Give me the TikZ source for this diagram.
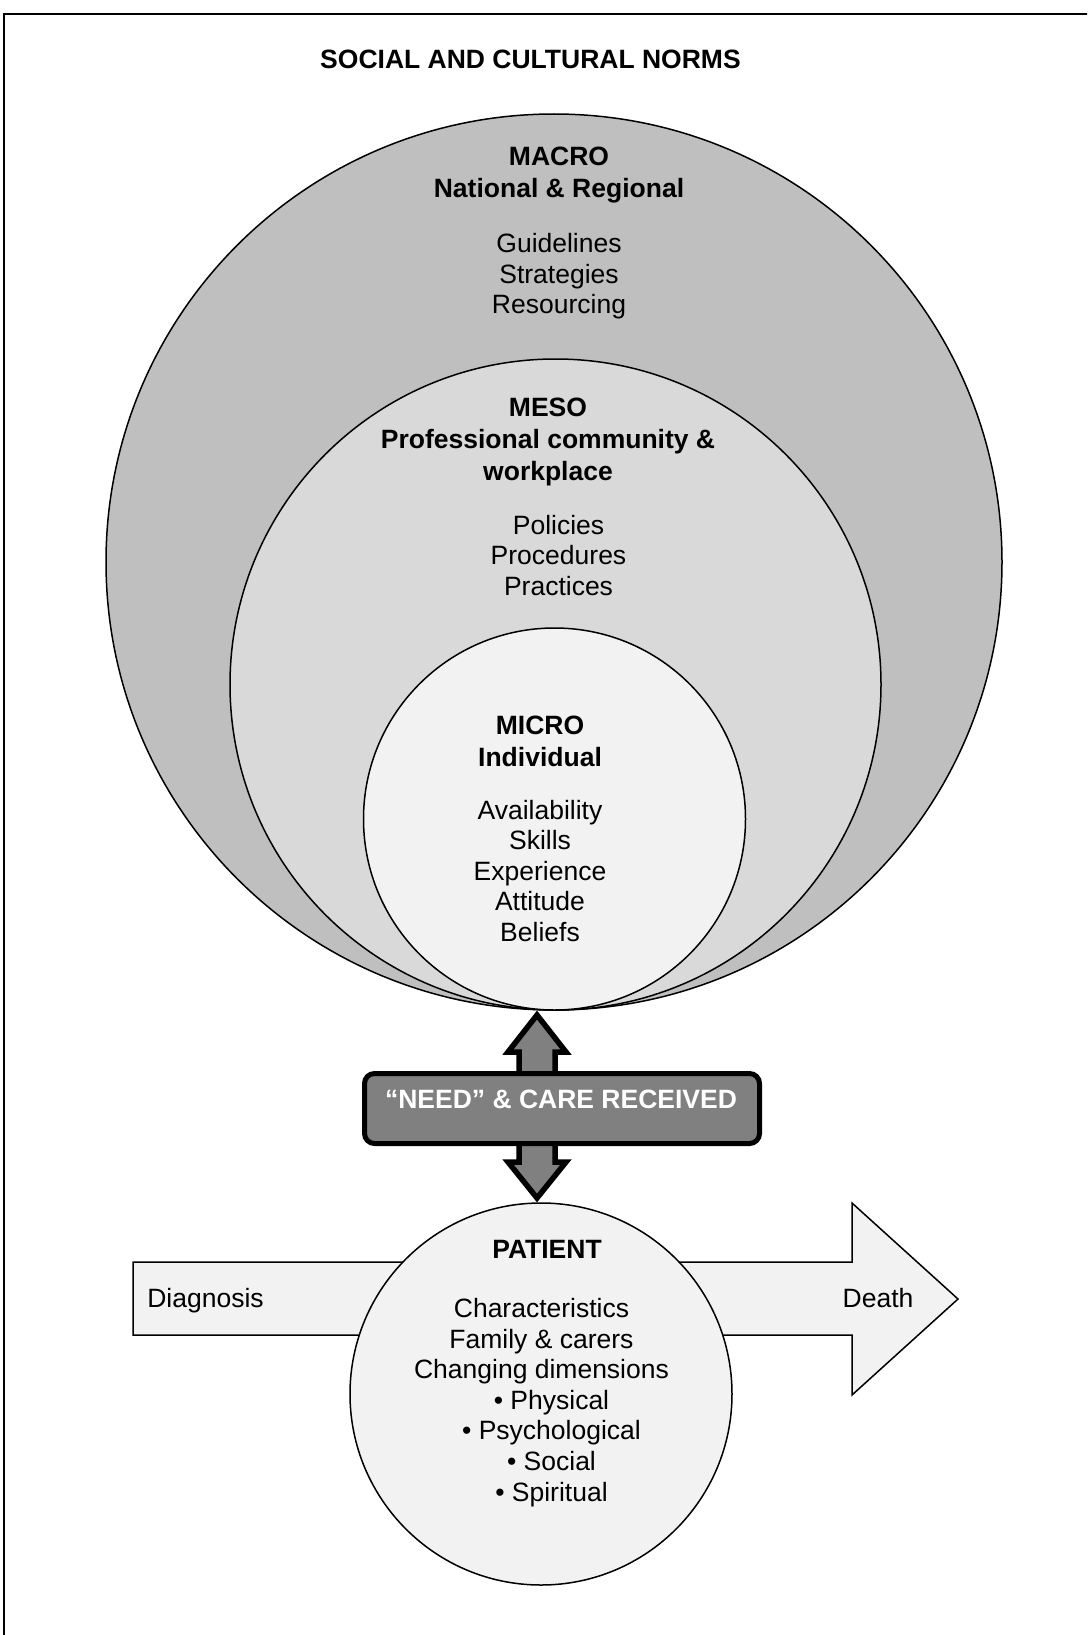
\documentclass[tikz,border=0pt]{standalone}
\usepackage{fontspec}
\setmainfont{Liberation Sans}
\definecolor{macrofill}{HTML}{BFBFBF}
\definecolor{mesofill}{HTML}{D9D9D9}
\definecolor{microfill}{HTML}{F2F2F2}
\definecolor{pale}{HTML}{F2F2F2}
\definecolor{mid}{HTML}{808080}
\begin{document}
\begin{tikzpicture}[x=1pt,y=-1pt,
  % multi-line text nodes are anchored at the baseline of their last line
  txt/.style={font=\fontsize{26.5}{30.6}\selectfont, align=center, inner sep=0pt, anchor=base},
  hd/.style={txt, font=\fontsize{26.5}{32}\selectfont\bfseries},
  ring/.style={circle, draw=black, line width=1.5pt, inner sep=0pt, outer sep=0pt},
  band/.style={draw=black, line width=5.5pt, line join=miter, fill=mid},
  timeline/.style={draw=black, line width=1.5pt, fill=pale, line join=miter},
]
\clip (0,0) rectangle (1087,1635);
\fill[white] (0,0) rectangle (1087,1635);
% outer frame
\draw[line width=2pt] (3.5,1700) -- (3.5,14) -- (1150,14);

\node[hd] (title) at (530.5,68.5) {SOCIAL AND CULTURAL NORMS};

% nested levels
\node[ring, fill=macrofill, minimum size=896pt] (macro) at (554,562) {};
\node[ring, fill=mesofill, minimum size=651pt] (meso) at (555.5,684.5) {};
\node[ring, fill=microfill, minimum size=382pt] (micro) at (554.5,819) {};

\node[hd] (macrohd) at (559,197) {MACRO\\National \& Regional};
\node[txt] (macrolist) at (559,313.7) {Guidelines\\Strategies\\Resourcing};
\node[hd] (mesohd) at (548,480.5) {MESO\\Professional community \&\\workplace};
\node[txt] (mesolist) at (558.5,595.2) {Policies\\Procedures\\Practices};
\node[hd] (microhd) at (540,766.5) {MICRO\\Individual};
\node[txt] (microlist) at (540,941.4) {Availability\\Skills\\Experience\\Attitude\\Beliefs};

% two-way link between care levels and patient
\draw[band] (537,1015) -- (566,1052) -- (555,1052) -- (555,1162) -- (566,1162)
  -- (537,1198) -- (508,1162) -- (519,1162) -- (519,1052) -- (508,1052) -- cycle;
\node[draw=black, line width=5pt, fill=mid, rounded corners=10pt,
  minimum width=395pt, minimum height=70pt, inner sep=0pt] (need) at (562,1108.5) {};
\node[hd, text=white] (needtxt) at (561,1108) {“NEED” \& CARE RECEIVED};

% disease trajectory
\draw[timeline] (133,1262) -- (852,1262) -- (852,1203) -- (958,1299)
  -- (852,1395) -- (852,1335) -- (133,1335) -- cycle;
\node[txt] (diag) at (205.5,1307) {Diagnosis};
\node[txt] (death) at (878,1307) {Death};

\node[ring, fill=pale, minimum size=382pt] (patient) at (541,1394) {};
\node[hd] (patienthd) at (547,1258) {PATIENT};
\node[txt] (patientlist) at (541.5,1501.1) {Characteristics\\Family \& carers\\Changing dimensions\\
  \hspace*{20pt}• Physical\\\hspace*{20pt}• Psychological\\\hspace*{20pt}• Social\\\hspace*{20pt}• Spiritual};
\end{tikzpicture}
\end{document}
